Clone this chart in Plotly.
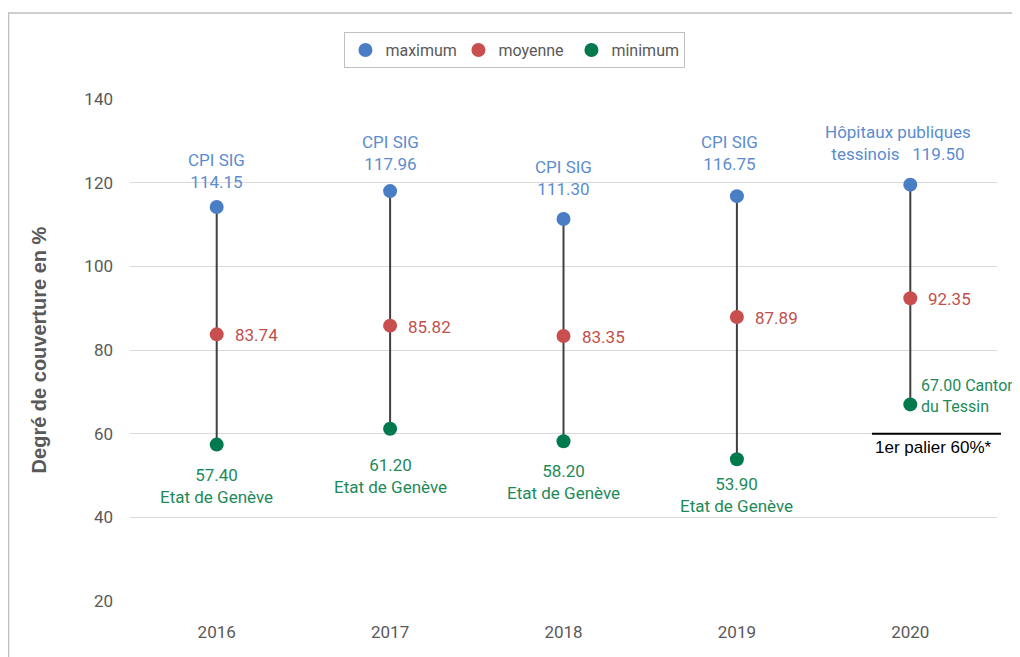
import plotly.graph_objects as go

# Data
years = ['2016', '2017', '2018', '2019', '2020']
maximum = [114.15, 117.96, 111.30, 116.75, 119.50]
moyenne = [83.74, 85.82, 83.35, 87.89, 92.35]
minimum = [57.40, 61.20, 58.20, 53.90, 67.00]

max_names = ['CPI SIG', 'CPI SIG', 'CPI SIG', 'CPI SIG', 'Hôpitaux publiques<br>tessinois']
min_names = ['Etat de Genève', 'Etat de Genève', 'Etat de Genève', 'Etat de Genève', 'Canton<br>du Tessin']
palier = 60
palier_label = '1er palier 60%*'

BLUE = '#4A7EC4'
RED = '#C94F4F'
GREEN = '#007A4D'
BLUE_TXT = '#5B8CD0'
RED_TXT = '#C0504D'
GREEN_TXT = '#1E8A5A'
GREY = '#595959'
FONT = 'Roboto'

fig = go.Figure()

# vertical connectors min -> max
line_x, line_y = [], []
for yr, lo, hi in zip(years, minimum, maximum):
    line_x += [yr, yr, None]
    line_y += [lo, hi, None]
fig.add_trace(go.Scatter(x=line_x, y=line_y, mode='lines',
                         line=dict(color='#404040', width=2),
                         showlegend=False, hoverinfo='skip'))

for name, vals, col in [('maximum', maximum, BLUE), ('moyenne', moyenne, RED), ('minimum', minimum, GREEN)]:
    fig.add_trace(go.Scatter(x=years, y=vals, mode='markers', name=name,
                             marker=dict(color=col, size=14)))

annotations = []
# label offsets (pixels) for each point
max_shift = [36, 38, 41, 43, 42]
max_xshift = [0, 0, 0, -7, -12]
min_shift = [-41, -47, -41, -36, 8]

for i, yr in enumerate(years):
    # category axis: annotations use the category index
    if i < 4:
        txt = max_names[i] + '<br>' + f'{maximum[i]:.2f}'
    else:
        txt = 'Hôpitaux publiques<br>tessinois&nbsp;&nbsp;&nbsp;' + f'{maximum[i]:.2f}'
    annotations.append(dict(x=i, y=maximum[i], text=txt, showarrow=False,
                            xshift=max_xshift[i], yshift=max_shift[i],
                            font=dict(family=FONT, size=17, color=BLUE_TXT)))
    annotations.append(dict(x=i, y=moyenne[i], text=f'{moyenne[i]:.2f}', showarrow=False,
                            xanchor='left', xshift=16, yshift=-1,
                            font=dict(family=FONT, size=17, color=RED_TXT)))
    if i < 4:
        annotations.append(dict(x=i, y=minimum[i], text=f'{minimum[i]:.2f}<br>' + min_names[i],
                                showarrow=False, yshift=min_shift[i],
                                font=dict(family=FONT, size=17, color=GREEN_TXT)))
    else:
        annotations.append(dict(x=i, y=minimum[i], text=f'{minimum[i]:.2f} ' + min_names[i],
                                showarrow=False, xanchor='left', align='left',
                                xshift=9, yshift=min_shift[i],
                                font=dict(family=FONT, size=16, color=GREEN_TXT)))

annotations.append(dict(xref='paper', x=0.857, y=palier, text=palier_label, showarrow=False,
                        xanchor='left', yshift=-14,
                        font=dict(family='Liberation Sans', size=17, color='black')))

shapes = [
    dict(type='line', xref='paper', yref='y', x0=0.8558, x1=1.0046, y0=palier, y1=palier,
         line=dict(color='black', width=2)),
    dict(type='rect', xref='paper', yref='paper', x0=-0.1401, x1=1.2, y0=-0.3, y1=1.1687,
         line=dict(color='#BFBFBF', width=1.5), layer='below'),
]

# the page body adds an 8px offset, so margins are shifted by 8px
fig.update_layout(
    width=1020, height=657,
    margin=dict(l=122, r=31, t=90, b=63, autoexpand=False),
    paper_bgcolor='white', plot_bgcolor='white',
    showlegend=True,
    legend=dict(orientation='h', x=0.444, xanchor='center', y=1.095, yanchor='middle',
                bordercolor='#BFBFBF', borderwidth=1, entrywidth=68,
                font=dict(family=FONT, size=16, color=GREY)),
    annotations=annotations,
    shapes=shapes,
    xaxis=dict(type='category', range=[-0.5, 4.5], showgrid=False, showline=False,
               ticks='', ticklabelstandoff=18, automargin=False,
               tickfont=dict(family=FONT, size=17, color=GREY)),
    yaxis=dict(range=[19.8, 140.2], tickmode='array', tickvals=[20, 40, 60, 80, 100, 120, 140],
               showgrid=True, gridcolor='#D9D9D9', gridwidth=1.3, zeroline=False, showline=False,
               ticklabelstandoff=16, automargin=False,
               tickfont=dict(family=FONT, size=17, color=GREY),
               title=dict(text='Degré de couverture en %', standoff=32,
                          font=dict(family='Liberation Sans', size=20, color=GREY, weight='bold'))),
)

fig.write_html('out.html')
